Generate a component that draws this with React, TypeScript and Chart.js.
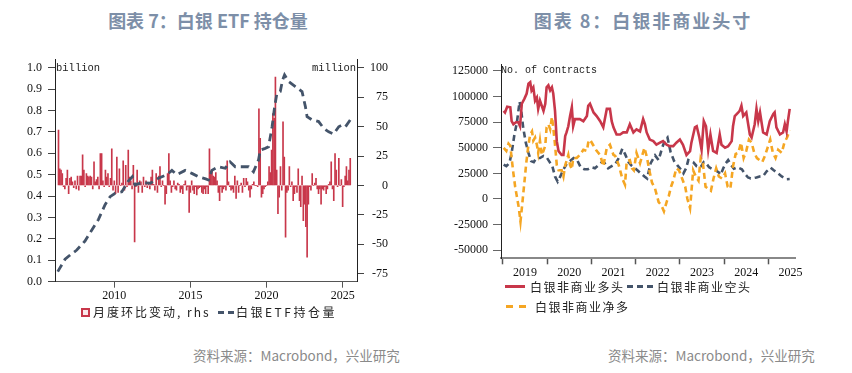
import { useEffect, useRef } from "react";
import { Chart, registerables } from "chart.js";

Chart.register(...registerables);

// ---------- Left chart: silver ETF holdings ----------
const ETF_DATES = [2006.28, 2006.76, 2007.10, 2007.53, 2008.07, 2008.51, 2008.95, 2009.39, 2009.72, 2010.05, 2010.49, 2010.92, 2011.18, 2011.36, 2011.80, 2012.35, 2012.89, 2013.45, 2013.78, 2014.10, 2014.65, 2015.09, 2015.53, 2016.00, 2016.18, 2016.40, 2016.84, 2017.28, 2017.60, 2017.94, 2018.38, 2018.82, 2019.14, 2019.47, 2019.59, 2019.91, 2020.13, 2020.36, 2020.53, 2020.68, 2020.90, 2021.05, 2021.18, 2021.45, 2021.89, 2022.33, 2022.55, 2022.66, 2022.99, 2023.42, 2023.75, 2024.08, 2024.41, 2024.74, 2024.96, 2025.18, 2025.50];
// billion oz
const ETF_HOLDINGS = [0.047, 0.105, 0.125, 0.148, 0.19, 0.24, 0.29, 0.36, 0.397, 0.413, 0.42, 0.47, 0.49, 0.452, 0.463, 0.46, 0.483, 0.50, 0.52, 0.50, 0.52, 0.506, 0.49, 0.48, 0.475, 0.52, 0.537, 0.53, 0.56, 0.537, 0.537, 0.537, 0.514, 0.569, 0.615, 0.623, 0.63, 0.724, 0.818, 0.88, 0.888, 0.942, 0.966, 0.935, 0.911, 0.888, 0.818, 0.771, 0.756, 0.748, 0.717, 0.70, 0.69, 0.724, 0.732, 0.724, 0.756];

// monthly change, million oz (rhs), first month = May 2006
const BAR_START = 2006.33;
const BAR_CHANGES = [
  47, 14, 13, 10, -1, -3, 6, 13, -7, 6, 7, 3, -2, 4, -3, 8, -4, 8, 8, 26, 13, -1, 10, 8, 7, 8, 7, -3, 20, 3, 5, 7, -3, 27, 27, 4, -1, 13, 7, 10, -1, 6, 31,
  -4, 4, -7, 24, -6, 14, 0, 2, 21, -4, 17, -1, 30, 7, 4, -3, 17, -48,
  -1, 13, -6, 4, 3, -6, 7, -1, 4, -2, 1, -3, 7, 13, 1, -4, 10, -6, 8, 16, -1, 4, 0, -16, -7, 10, 27,
  4, -6, -1, 4, -3, -4, 2, 1, -6, -3, -7, 1, 4, -4, -1, -23,
  -6, 4, -4, -7, -1, -8, -3, -2, -1, -6, -7, -3, -7, -1, -7, 31,
  10, 13, 8, 7, 11, 4, -6, -13, -1, -6, -3, -1, -4, 21, 3, -1, -4, -3, -6, 8, -11, 4, -6, 0, 2, -6, 6, -1, 6, 3, -4, -10, -3, 1, 3, 0, 0, -1, 65,
  40, -10, -7, -3, -1, 0, 3, 16, 11, 30, 61, 57, 92,
  13, -24, -10, 16, -4, 54, 24, -44, -6, -4, 16, -1, 3, -13, -7, -1, -6, 14, -13, -18, 8, -30, -16, -35, -61,
  -16, -1, -4, 10, 0, 2, 6, -3, -7, -3, -16, -3, -4, -1, -7, -3, 1, 3, 20, -3, -13, 27, 13, -1, 23, 0, 5, -18, -1, 8, 16, 4, 13, 23,
];
const LEFT_X_TICKS = [2010, 2015, 2020, 2025];
const LEFT_YL_TICKS = [0, 0.1, 0.2, 0.3, 0.4, 0.5, 0.6, 0.7, 0.8, 0.9, 1.0];
const LEFT_YR_TICKS = [-75, -50, -25, 0, 25, 50, 75, 100];

// ---------- Right chart: non-commercial positions (thousand contracts) ----------
const LONG_DATES = [2019.02, 2019.05, 2019.10, 2019.17, 2019.20, 2019.24, 2019.30, 2019.35, 2019.39, 2019.43, 2019.49, 2019.54, 2019.58, 2019.62, 2019.65, 2019.69, 2019.73, 2019.77, 2019.80, 2019.84, 2019.88, 2019.92, 2019.96, 2019.99, 2020.03, 2020.07, 2020.11, 2020.14, 2020.18, 2020.22, 2020.26, 2020.33, 2020.37, 2020.41, 2020.44, 2020.48, 2020.52, 2020.56, 2020.59, 2020.63, 2020.67, 2020.74, 2020.82, 2020.90, 2020.93, 2020.97, 2021.05, 2021.12, 2021.20, 2021.27, 2021.35, 2021.42, 2021.46, 2021.50, 2021.57, 2021.65, 2021.72, 2021.80, 2021.87, 2021.95, 2022.02, 2022.10, 2022.17, 2022.21, 2022.25, 2022.32, 2022.40, 2022.47, 2022.55, 2022.62, 2022.70, 2022.77, 2022.85, 2022.92, 2023.00, 2023.07, 2023.15, 2023.23, 2023.26, 2023.34, 2023.38, 2023.44, 2023.49, 2023.54, 2023.59, 2023.64, 2023.69, 2023.75, 2023.83, 2023.90, 2023.94, 2024.02, 2024.09, 2024.17, 2024.20, 2024.24, 2024.32, 2024.35, 2024.39, 2024.43, 2024.50, 2024.58, 2024.62, 2024.69, 2024.73, 2024.77, 2024.81, 2024.88, 2024.96, 2025.03, 2025.11, 2025.14, 2025.18, 2025.26, 2025.33, 2025.37, 2025.41, 2025.44, 2025.48];
const LONG_K = [86, 84.5, 90, 89.5, 76, 73, 75, 75, 71, 93, 98, 103, 112.5, 114, 106, 109, 96, 99, 88, 96, 91, 86, 93, 109, 111, 106, 109, 103, 86, 56.5, 46.7, 43, 43, 61.5, 65, 71, 81, 89.5, 71, 78, 78, 78, 76, 81, 91, 93, 84.5, 81, 76, 70, 88, 88, 76, 70, 63, 63, 65, 65, 73, 65, 68, 66, 78, 73, 65, 58, 56.5, 53, 55, 56.5, 53, 51.6, 51.6, 55, 58, 53, 43, 46.7, 55, 70, 71, 60, 48, 76, 71, 48, 63, 47, 45, 63, 53, 50, 51.6, 56.5, 71, 81, 84.5, 86, 91, 81, 84.5, 63, 60, 73, 88, 76, 84.5, 65, 63, 76, 83, 84.5, 70, 63, 65, 73, 66, 76, 88];

const SHORT_DATES = [2019.02, 2019.08, 2019.15, 2019.20, 2019.26, 2019.32, 2019.38, 2019.42, 2019.46, 2019.52, 2019.58, 2019.64, 2019.70, 2019.76, 2019.84, 2019.92, 2020.00, 2020.06, 2020.12, 2020.18, 2020.24, 2020.30, 2020.36, 2020.44, 2020.52, 2020.60, 2020.68, 2020.76, 2020.84, 2020.92, 2021.00, 2021.08, 2021.16, 2021.24, 2021.30, 2021.38, 2021.46, 2021.54, 2021.62, 2021.70, 2021.76, 2021.84, 2021.90, 2021.96, 2022.04, 2022.12, 2022.20, 2022.26, 2022.34, 2022.44, 2022.52, 2022.60, 2022.66, 2022.72, 2022.79, 2022.87, 2022.94, 2023.00, 2023.08, 2023.14, 2023.19, 2023.25, 2023.30, 2023.38, 2023.47, 2023.54, 2023.60, 2023.66, 2023.72, 2023.81, 2023.88, 2023.92, 2023.98, 2024.04, 2024.09, 2024.16, 2024.22, 2024.30, 2024.40, 2024.48, 2024.54, 2024.60, 2024.67, 2024.73, 2024.80, 2024.88, 2024.96, 2025.05, 2025.12, 2025.19, 2025.30, 2025.41, 2025.48];
const SHORT_K = [33.5, 32, 35, 45, 62, 75, 95, 85, 70, 55, 45, 37, 36, 40, 40, 42, 40, 36, 32, 22, 17, 22, 28, 34, 37, 40, 38, 31, 29, 29, 31, 30, 33, 36, 35, 30, 32, 34, 40, 49, 44, 36, 33, 31, 28, 25, 22, 20, 35, 42.6, 38, 50, 57, 60, 46, 37, 33, 30, 25, 30, 38, 37, 36, 32, 31, 36, 34.5, 31, 29.6, 28, 26, 23.7, 30, 35, 38, 33, 29.6, 31, 29, 24, 21, 20, 20.5, 21, 22, 22.4, 27, 30.6, 28, 26, 22, 19.3, 19.5];

const NET_DATES = [2019.02, 2019.08, 2019.13, 2019.17, 2019.20, 2019.24, 2019.28, 2019.32, 2019.36, 2019.40, 2019.44, 2019.49, 2019.53, 2019.58, 2019.62, 2019.66, 2019.69, 2019.73, 2019.77, 2019.80, 2019.84, 2019.88, 2019.92, 2019.96, 2019.99, 2020.03, 2020.07, 2020.11, 2020.14, 2020.18, 2020.22, 2020.26, 2020.33, 2020.37, 2020.41, 2020.44, 2020.48, 2020.52, 2020.56, 2020.59, 2020.67, 2020.74, 2020.82, 2020.90, 2020.93, 2020.97, 2021.05, 2021.12, 2021.20, 2021.27, 2021.35, 2021.42, 2021.50, 2021.54, 2021.62, 2021.70, 2021.76, 2021.80, 2021.87, 2021.92, 2021.96, 2022.02, 2022.10, 2022.20, 2022.26, 2022.30, 2022.37, 2022.44, 2022.52, 2022.58, 2022.64, 2022.70, 2022.75, 2022.80, 2022.85, 2022.92, 2022.98, 2023.05, 2023.12, 2023.17, 2023.23, 2023.30, 2023.36, 2023.42, 2023.47, 2023.52, 2023.58, 2023.64, 2023.70, 2023.76, 2023.82, 2023.88, 2023.95, 2024.02, 2024.08, 2024.14, 2024.20, 2024.26, 2024.32, 2024.38, 2024.44, 2024.50, 2024.56, 2024.62, 2024.68, 2024.74, 2024.80, 2024.86, 2024.92, 2024.98, 2025.04, 2025.10, 2025.16, 2025.22, 2025.30, 2025.36, 2025.42, 2025.48];
const NET_K = [50, 47, 54, 52, 40, 25, 12, 2, -8, -22, -5, 17, 35, 53, 63, 66, 57, 60, 53, 45, 57, 43, 47, 52, 70, 73, 68, 80, 70, 53, 33, 28, 28, 22, 33, 37, 43, 33, 29, 40, 40, 43, 48, 47, 55, 58, 52, 47, 43, 32, 50, 53, 43, 42, 33, 20, 14, 37, 38, 30, 28, 45, 35, 50, 40, 30, 16, 10, -3, -6, -12, -3, 3, 12, 18, 30, 28, 20, 12, 0, -9, 28, 22, 18, 40, 35, 12, 10, 8, 20, 30, 22, 20, 25, 12, 10, 32, 44, 45, 55, 40, 47, 58, 55, 45, 40, 38, 36, 42, 50, 58, 45, 40, 48, 45, 55, 60, 67];

const RIGHT_YEARS = [2019, 2020, 2021, 2022, 2023, 2024, 2025];
const RIGHT_Y_TICKS = [-50000, -25000, 0, 25000, 50000, 75000, 100000, 125000];

// ---------- styles ----------
const RED = "#c8374a";
const NAVY = "#44546a";
const ORANGE = "#f5a623";
const SERIF = '"Liberation Serif", "Times New Roman", serif';
const CJK = '"Noto Sans CJK SC", "Noto Sans", sans-serif';
const MONO = '"Liberation Mono", "DejaVu Sans Mono", monospace';
const TICK_FONT = { family: SERIF, size: 12 };
const TICK_COLOR = "#111";

function pairs(xs: number[], ys: number[], k = 1) {
  const n = Math.min(xs.length, ys.length);
  const out: { x: number; y: number }[] = [];
  for (let i = 0; i < n; i++) out.push({ x: xs[i], y: ys[i] * k });
  return out;
}

const setTicks = (vals: number[]) => (s: any) => {
  s.ticks = vals.map((v) => ({ value: v }));
};

function leftConfig(): any {
  return {
    type: "line",
    data: {
      datasets: [
        {
          type: "line",
          label: "白银ETF持仓量",
          data: pairs(ETF_DATES, ETF_HOLDINGS),
          yAxisID: "yL",
          borderColor: NAVY,
          borderWidth: 2.8,
          borderDash: [8, 5],
          pointRadius: 0,
          fill: false,
          tension: 0,
          order: 0,
        },
        {
          type: "bar",
          label: "月度环比变动, rhs",
          data: BAR_CHANGES.map((v, i) => ({ x: BAR_START + i / 12, y: v })),
          yAxisID: "yR",
          backgroundColor: RED,
          borderWidth: 0,
          barThickness: 1,
          order: 1,
        },
      ],
    },
    options: {
      animation: false,
      responsive: false,
      devicePixelRatio: 1,
      layout: { padding: { top: 59.5, right: 38, bottom: 0, left: 0 } },
      plugins: { legend: { display: false }, tooltip: { enabled: false } },
      scales: {
        x: {
          type: "linear",
          min: 2006.1,
          max: 2025.94,
          offset: false,
          afterBuildTicks: setTicks(LEFT_X_TICKS),
          afterFit: (s: any) => {
            s.height = 23.3;
          },
          ticks: { font: TICK_FONT, color: TICK_COLOR, padding: 1, maxRotation: 0, autoSkip: false, callback: (v: number) => String(v) },
          grid: { display: true, drawOnChartArea: false, drawTicks: true, tickLength: 6, color: "#555", offset: false },
          border: { display: true, color: "#555", width: 1 },
        },
        yL: {
          type: "linear",
          position: "left",
          min: 0,
          max: 1.038,
          afterBuildTicks: setTicks(LEFT_YL_TICKS),
          afterFit: (s: any) => {
            s.width = 55;
          },
          ticks: { font: TICK_FONT, color: TICK_COLOR, padding: 6, autoSkip: false, callback: (v: number) => v.toFixed(1) },
          grid: { display: true, drawOnChartArea: false, drawTicks: true, tickLength: 7, color: "#444" },
          border: { display: true, color: "#222", width: 1 },
        },
        yR: {
          type: "linear",
          position: "right",
          min: -81.8,
          max: 107,
          afterBuildTicks: setTicks(LEFT_YR_TICKS),
          afterFit: (s: any) => {
            s.width = 31;
          },
          ticks: { font: TICK_FONT, color: TICK_COLOR, padding: 4, autoSkip: false, crossAlign: "far", callback: (v: number) => String(v) },
          grid: { display: true, drawOnChartArea: false, drawTicks: true, tickLength: 7, color: "#444" },
          border: { display: true, color: "#222", width: 1 },
        },
      },
    },
  };
}

function rightConfig(): any {
  const tickVals: number[] = [];
  RIGHT_YEARS.forEach((y) => {
    tickVals.push(y);
    tickVals.push(y + 0.5);
  });
  return {
    type: "line",
    data: {
      datasets: [
        {
          label: "白银非商业多头",
          data: pairs(LONG_DATES, LONG_K, 1000),
          borderColor: RED,
          borderWidth: 2.6,
          pointRadius: 0,
          tension: 0,
          fill: false,
          order: 0,
        },
        {
          label: "白银非商业空头",
          data: pairs(SHORT_DATES, SHORT_K, 1000),
          borderColor: NAVY,
          borderWidth: 2.6,
          borderDash: [6, 4],
          pointRadius: 0,
          tension: 0,
          fill: false,
          order: 2,
        },
        {
          label: "白银非商业净多",
          data: pairs(NET_DATES, NET_K, 1000),
          borderColor: ORANGE,
          borderWidth: 2.6,
          borderDash: [6, 4],
          pointRadius: 0,
          tension: 0,
          fill: false,
          order: 1,
        },
      ],
    },
    options: {
      animation: false,
      responsive: false,
      devicePixelRatio: 1,
      layout: { padding: { top: 64, right: 57, bottom: 0, left: 0 } },
      plugins: { legend: { display: false }, tooltip: { enabled: false } },
      scales: {
        x: {
          type: "linear",
          min: 2018.96,
          max: 2025.6,
          offset: false,
          afterBuildTicks: setTicks(tickVals),
          afterFit: (s: any) => {
            s.height = 31.7;
          },
          ticks: {
            font: TICK_FONT,
            color: TICK_COLOR,
            padding: 1,
            maxRotation: 0,
            autoSkip: false,
            callback: (v: number) => (Number.isInteger(v) ? "" : String(Math.floor(v))),
          },
          grid: {
            display: true,
            drawOnChartArea: false,
            drawTicks: true,
            tickLength: 6,
            tickWidth: 1.5,
            tickColor: (ctx: any) => (ctx.tick && Number.isInteger(ctx.tick.value) ? "#555" : "rgba(0,0,0,0)"),
          },
          border: { display: true, color: "#888", width: 2 },
        },
        y: {
          type: "linear",
          position: "left",
          min: -57900,
          max: 131800,
          afterBuildTicks: setTicks(RIGHT_Y_TICKS),
          afterFit: (s: any) => {
            s.width = 75;
          },
          ticks: { font: TICK_FONT, color: TICK_COLOR, padding: 5, autoSkip: false, callback: (v: number) => String(v) },
          grid: { display: true, drawOnChartArea: false, drawTicks: true, tickLength: 8, color: "#666" },
          border: { display: true, color: "#222", width: 1 },
        },
      },
    },
  };
}

function Dash({ left, top, width, color, dash, thick = 3 }: { left: number; top: number; width: number; color: string; dash?: string; thick?: number }) {
  return (
    <svg width={width} height={thick + 2} style={{ position: "absolute", left, top: top - (thick + 2) / 2 }}>
      <line x1={0} y1={(thick + 2) / 2} x2={width} y2={(thick + 2) / 2} stroke={color} strokeWidth={thick} strokeDasharray={dash} />
    </svg>
  );
}

function Txt({ left, cy, children, style }: { left: number; cy: number; children: any; style?: any }) {
  return (
    <div style={{ position: "absolute", left, top: cy - 8, height: 16, lineHeight: "16px", whiteSpace: "nowrap", fontFamily: CJK, fontSize: 12, letterSpacing: "1.5px", color: "#222", ...style }}>
      {children}
    </div>
  );
}

export default function App() {
  const leftRef = useRef<HTMLCanvasElement>(null);
  const rightRef = useRef<HTMLCanvasElement>(null);

  useEffect(() => {
    const c1 = new Chart(leftRef.current as HTMLCanvasElement, leftConfig());
    const c2 = new Chart(rightRef.current as HTMLCanvasElement, rightConfig());
    return () => {
      c1.destroy();
      c2.destroy();
    };
  }, []);

  const titleStyle: any = {
    position: "absolute",
    top: 9,
    height: 22,
    lineHeight: "22px",
    textAlign: "center",
    fontFamily: CJK,
    fontWeight: 700,
    fontSize: 18,
    color: "#7d8fa8",
    whiteSpace: "nowrap",
  };
  const srcStyle: any = {
    position: "absolute",
    top: 346,
    height: 18,
    lineHeight: "18px",
    fontFamily: CJK,
    fontSize: 13.5,
    color: "#8a8a8a",
    whiteSpace: "nowrap",
  };
  const monoStyle: any = {
    position: "absolute",
    fontFamily: MONO,
    color: "#222",
    whiteSpace: "nowrap",
  };

  return (
    <div style={{ position: "absolute", left: 0, top: 0, width: 852, height: 373, background: "#fff", overflow: "hidden" }}>
      <div style={{ ...titleStyle, left: 0, width: 416 }}>图表 7：白银 ETF 持仓量</div>
      <div style={{ ...titleStyle, left: 430, width: 426, letterSpacing: "2px" }}>图表 8：白银非商业头寸</div>

      <canvas ref={leftRef} width={426} height={305} style={{ position: "absolute", left: 0, top: 0, width: 426, height: 305 }} />
      <canvas ref={rightRef} width={426} height={290} style={{ position: "absolute", left: 426, top: 0, width: 426, height: 290 }} />

      <div style={{ ...monoStyle, left: 56, top: 61.5, fontSize: 10.5, lineHeight: "12px" }}>billion</div>
      <div style={{ ...monoStyle, left: 312, top: 61.5, fontSize: 10.5, lineHeight: "12px" }}>million</div>
      <div style={{ ...monoStyle, left: 501, top: 65, fontSize: 10, lineHeight: "12px" }}>No. of Contracts</div>

      {/* left legend */}
      <div style={{ position: "absolute", left: 81, top: 307.5, width: 9, height: 9, boxSizing: "border-box", border: `2px solid ${RED}`, background: "#fbe9ec" }} />
      <Txt left={93} cy={312} style={{ letterSpacing: "2px" }}>月度环比变动, rhs</Txt>
      <Dash left={218} top={312} width={16} color={NAVY} dash="6 4" />
      <Txt left={236} cy={312} style={{ letterSpacing: "2.5px" }}>白银ETF持仓量</Txt>

      {/* right legend */}
      <Dash left={505} top={286.5} width={20} color={RED} />
      <Txt left={530} cy={286.5}>白银非商业多头</Txt>
      <Dash left={627} top={286.5} width={26} color={NAVY} dash="6 4" />
      <Txt left={657} cy={286.5}>白银非商业空头</Txt>
      <Dash left={506} top={306.7} width={23} color={ORANGE} dash="7 6" />
      <Txt left={535} cy={306.7}>白银非商业净多</Txt>

      <div style={{ ...srcStyle, left: 193 }}>资料来源：Macrobond，兴业研究</div>
      <div style={{ ...srcStyle, left: 608 }}>资料来源：Macrobond，兴业研究</div>
    </div>
  );
}
